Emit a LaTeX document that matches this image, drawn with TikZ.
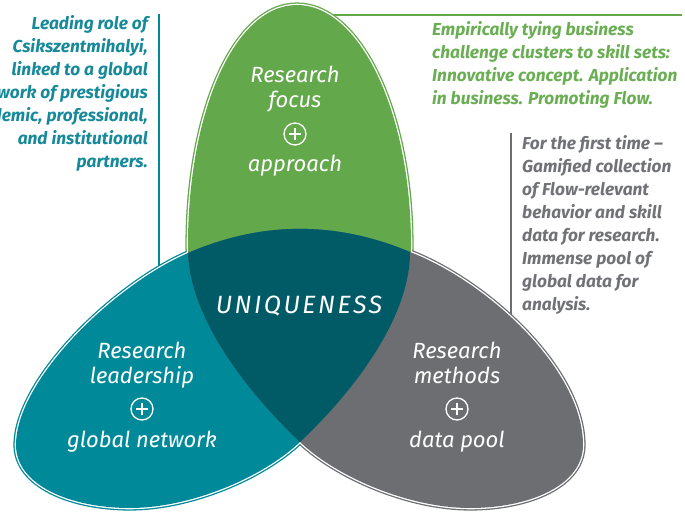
\documentclass[tikz,border=0pt]{standalone}
\usepackage{fontspec}
\setmainfont{Fira Sans}
\newfontfamily\uniqfont[LetterSpace=10]{Fira Sans}
\usetikzlibrary{positioning}
\definecolor{flowgreen}{HTML}{63A84B}
\definecolor{flowteal}{HTML}{008A99}
\definecolor{flowgrey}{HTML}{6D6E72}
\definecolor{flowdark}{HTML}{005B67}
\definecolor{txtgreen}{HTML}{6AAE53}
\definecolor{txtteal}{HTML}{16899A}
\definecolor{txtgrey}{HTML}{717276}
\begin{document}
\begin{tikzpicture}[x=1pt,y=-1pt,line join=round,
    side/.style={inner sep=0pt,font=\fontsize{17.3}{23}\selectfont\bfseries\itshape},
    petal/.style={inner sep=0pt,text=white,align=center,font=\fontsize{22}{25}\selectfont\itshape},
    plusring/.style={circle,draw=white,line width=1.3pt,minimum size=22pt,inner sep=0pt},
    rim/.style={line width=5.2pt,draw=#1},
    gap/.style={line width=2.6pt,draw=white}]
  \useasboundingbox (0,0) rectangle (685,513);
  \clip (0,0) rectangle (685,513);
  \def\greenshape{(297,5) .. controls (360,5) and (411,113) .. (411,245)
    .. controls (411,330) and (340,420) .. (299,420)
    .. controls (258,420) and (188,330) .. (188,245)
    .. controls (188,113) and (234,5) .. (297,5) -- cycle}
  \def\tealshape{(410,252) .. controls (410,320) and (350,395) .. (300,442)
    .. controls (262,478) and (190,508) .. (130,508)
    .. controls (70,508) and (16,485) .. (16,445)
    .. controls (16,380) and (114,285) .. (188,253)
    .. controls (262,221) and (336,221) .. (410,252) -- cycle}
  \def\greyshape{(188,253) .. controls (190,320) and (250,395) .. (300,442)
    .. controls (338,478) and (410,508) .. (470,508)
    .. controls (530,508) and (583,485) .. (583,445)
    .. controls (583,370) and (488,282) .. (410,252)
    .. controls (336,221) and (262,221) .. (188,253) -- cycle}
  \coordinate (gTop) at (682,15);
  \coordinate (gFoot) at (300,15);
  \coordinate (tTop) at (159,14);
  \coordinate (tFoot) at (159,290);
  \coordinate (rTop) at (511,133);
  \coordinate (rFoot) at (511,345);
  \draw[flowgreen,line width=1.2pt] (gTop) -- (gFoot);
  \draw[flowteal,line width=1.2pt] (tTop) -- (tFoot);
  \draw[flowgrey,line width=1.2pt] (rTop) -- (rFoot);
  \draw[rim=flowgreen] \greenshape;
  \draw[rim=flowteal] \tealshape;
  \draw[rim=flowgrey] \greyshape;
  \draw[gap] \greenshape;
  \draw[gap] \tealshape;
  \draw[gap] \greyshape;
  \fill[flowgreen] \greenshape;
  \fill[flowteal] \tealshape;
  \fill[flowgrey] \greyshape;
  \begin{scope}
    \clip \tealshape;
    \fill[flowdark] \greyshape;
  \end{scope}
  \node[side,text=txtteal,align=right,anchor=north east] (leadtxt) at (148,15)
    {Leading role of\\Csikszentmihalyi,\\linked to a global\\network of prestigious\\academic, professional,\\and institutional\\partners.};
  \node[side,text=txtgreen,align=left,anchor=north west] (empirtxt) at (432,21)
    {Empirically tying business\\challenge clusters to skill sets:\\Innovative concept. Application\\in business. Promoting Flow.};
  \node[side,text=txtgrey,align=left,anchor=north west] (firsttxt) at (522,135)
    {For the first time --\\Gamified collection\\of Flow-relevant\\behavior and skill\\data for research.\\Immense pool of\\global data for\\analysis.};
  \foreach \n/\x/\y in {plusG/295/134,plusT/142/409,plusR/457/409}{
    \node[plusring] (\n) at (\x,\y) {};
    \draw[white,line width=1.3pt] ([xshift=-6pt]\n.center) -- ([xshift=6pt]\n.center);
    \draw[white,line width=1.3pt] ([yshift=-6pt]\n.center) -- ([yshift=6pt]\n.center);
  }
  \node[petal,anchor=north] (focusG) at (295,66) {Research\\focus};
  \node[petal,below=9pt of plusG] (apprG) {approach};
  \node[petal,anchor=north] (leadT) at (142,342) {Research\\leadership};
  \node[petal,below=10pt of plusT] (globT) {global network};
  \node[petal,anchor=north] (methR) at (457,342) {Research\\methods};
  \node[petal,below=10pt of plusR] (poolR) {data pool};
  \node[inner sep=0pt,text=white,anchor=base,font=\uniqfont\fontsize{25}{28}\selectfont\itshape] (uniq) at (299,313) {UNIQUENESS};
\end{tikzpicture}
\end{document}
